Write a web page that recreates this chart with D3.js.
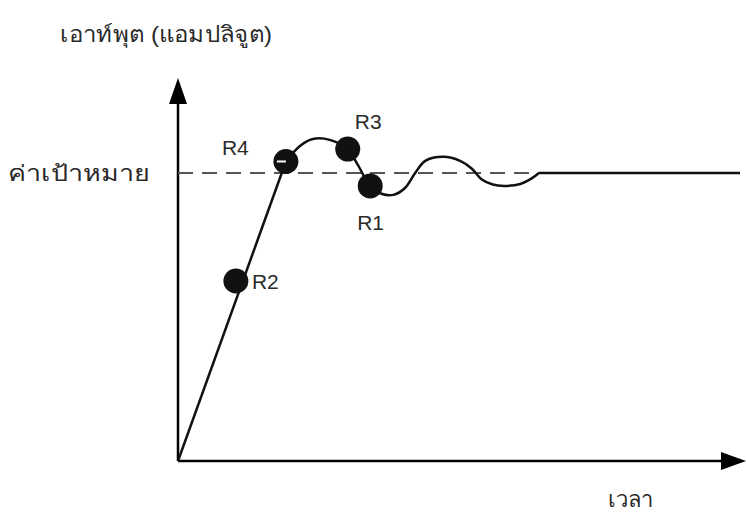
<!DOCTYPE html>
<html>
<head>
<meta charset="utf-8">
<script src="https://cdn.jsdelivr.net/npm/d3@7"></script>
<style>
  body { margin: 0; background: #fff; }
  text { font-family: "Liberation Sans", Arial, sans-serif; fill: #2a2a2a; }
</style>
</head>
<body>
<div id="chart"></div>
<script>
// Output response vs time (normalised: target = 1.0)
const rampPoints = [
    { t: 0, y: 0 },
    { t: 1.92, y: 1.04 }
]
const wavePoints = [
    { t: 1.92, y: 1.04 }, { t: 2.17, y: 1.094 }, { t: 2.40, y: 1.118 },
    { t: 2.70, y: 1.115 }, { t: 3.02, y: 1.083 }, { t: 3.20, y: 1.028 },
    { t: 3.42, y: 0.955 }, { t: 3.62, y: 0.928 }, { t: 3.83, y: 0.924 },
    { t: 4.04, y: 0.948 }, { t: 4.22, y: 1.0 }, { t: 4.40, y: 1.042 },
    { t: 4.72, y: 1.056 }, { t: 5.02, y: 1.042 }, { t: 5.23, y: 1.015 },
    { t: 5.40, y: 0.978 }, { t: 5.60, y: 0.960 }, { t: 5.80, y: 0.955 },
    { t: 6.09, y: 0.962 }, { t: 6.30, y: 0.982 }, { t: 6.42, y: 1.0 }
]
const flatPoints = [ { t: 6.42, y: 1.0 }, { t: 10, y: 1.0 } ]
const target = 1.0

// Labelled points on the response
const markers = [
    { name: "R2", t: 1.03, y: 0.625 },
    { name: "R4", t: 1.92, y: 1.04 },
    { name: "R3", t: 3.02, y: 1.083 },
    { name: "R1", t: 3.42, y: 0.955 }
]

const yAxisLabel = "เอาท์พุต (แอมปลิจูต)"
const targetLabel = "ค่าเป้าหมาย"
const xAxisLabel = "เวลา"

const width = 746
const height = 519

const svg = d3.select("#chart").append("svg")
    .attr("width", width)
    .attr("height", height)

const xScale = d3.scaleLinear().domain([0, 10]).range([178, 740])
const yScale = d3.scaleLinear().domain([0, 1]).range([461, 173])

// axes (no ticks, just arrows)
svg.append("line")
    .attr("x1", xScale(0)).attr("y1", yScale(0))
    .attr("x2", xScale(0)).attr("y2", yScale(1.3))
    .attr("stroke", "#000").attr("stroke-width", 2.5)
svg.append("line")
    .attr("x1", xScale(0)).attr("y1", yScale(0))
    .attr("x2", xScale(9.7)).attr("y2", yScale(0))
    .attr("stroke", "#000").attr("stroke-width", 2.5)

const yTip = yScale(0) - 383
svg.append("path")
    .attr("d", `M${xScale(0)},${yTip} L${xScale(0) - 9},${yTip + 26} L${xScale(0) + 9},${yTip + 26} Z`)
    .attr("fill", "#000")
const xTip = 746
svg.append("path")
    .attr("d", `M${xTip},${yScale(0)} L${xTip - 25},${yScale(0) - 9} L${xTip - 25},${yScale(0) + 9} Z`)
    .attr("fill", "#000")

// target line
svg.append("line")
    .attr("x1", xScale(0)).attr("y1", yScale(target))
    .attr("x2", xScale(6.42)).attr("y2", yScale(target))
    .attr("stroke", "#555").attr("stroke-width", 2)
    .attr("stroke-dasharray", "15,9")

const line = d3.line().x(d => xScale(d.t)).y(d => yScale(d.y))

svg.append("path").datum(rampPoints)
    .attr("d", line)
    .attr("fill", "none").attr("stroke", "#111").attr("stroke-width", 2.5)

svg.append("path").datum(wavePoints)
    .attr("d", line.curve(d3.curveCatmullRom.alpha(0.5)))
    .attr("fill", "none").attr("stroke", "#111").attr("stroke-width", 2.5)

svg.append("path").datum(flatPoints)
    .attr("d", d3.line().x(d => xScale(d.t)).y(d => yScale(d.y)))
    .attr("fill", "none").attr("stroke", "#111").attr("stroke-width", 2.5)

// markers
svg.selectAll(".dot")
    .data(markers)
    .join("circle")
    .attr("class", "dot")
    .attr("cx", d => xScale(d.t))
    .attr("cy", d => yScale(d.y))
    .attr("r", 12.5)
    .attr("fill", "#111")

// little white dash inside R4
const r4 = markers[1]
svg.append("line")
    .attr("x1", xScale(r4.t) - 9).attr("y1", yScale(r4.y))
    .attr("x2", xScale(r4.t)).attr("y2", yScale(r4.y))
    .attr("stroke", "#fff").attr("stroke-width", 2)

const labelOffsets = { R2: [16, 8], R4: [-64, -6], R3: [7, -20], R1: [-13, 44] }
svg.selectAll(".lbl")
    .data(markers)
    .join("text")
    .attr("class", "lbl")
    .attr("x", d => xScale(d.t) + labelOffsets[d.name][0])
    .attr("y", d => yScale(d.y) + labelOffsets[d.name][1])
    .attr("font-size", 21)
    .text(d => d.name)

svg.append("text").attr("x", 60).attr("y", 42).attr("font-size", 22)
    .attr("textLength", 212).attr("lengthAdjust", "spacingAndGlyphs").text(yAxisLabel)
svg.append("text").attr("x", 8).attr("y", yScale(target) + 8).attr("font-size", 22)
    .attr("textLength", 142).attr("lengthAdjust", "spacingAndGlyphs").text(targetLabel)
svg.append("text").attr("x", 608).attr("y", 507).attr("font-size", 22).text(xAxisLabel)
</script>
</body>
</html>
